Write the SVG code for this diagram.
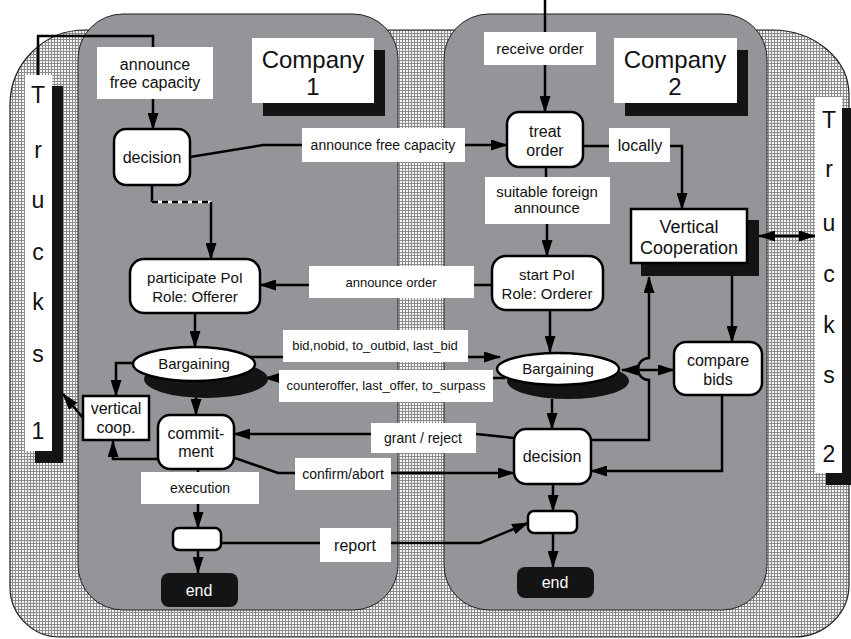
<svg xmlns="http://www.w3.org/2000/svg" width="851" height="639" viewBox="0 0 851 639">
<defs>
<pattern id="hatch" width="3" height="3" patternUnits="userSpaceOnUse">
<rect width="3" height="3" fill="#f4f4f4"/>
<path d="M0,0.5H3M0.5,0V3" stroke="#8c8c8c" stroke-width="1"/>
</pattern>
<marker id="ah" markerUnits="userSpaceOnUse" markerWidth="17" markerHeight="11" viewBox="0 0 17 11" refX="16" refY="5.5" orient="auto-start-reverse">
<path d="M0,0 L17,5.5 L0,11 z" fill="#000"/>
</marker>
<style>
.panel{fill:#939598;stroke:#222;stroke-width:1}
.node{fill:#fff;stroke:#000;stroke-width:2.5}
.shadow{fill:#141414}
.lbl{fill:#fff}
.c{fill:none;stroke:#000;stroke-width:2.5}
.a{marker-end:url(#ah)}
text{font-family:"Liberation Sans",Arial,sans-serif;fill:#111;text-anchor:middle}
.t13{font-size:13px}
.t14{font-size:14px}
.t15{font-size:15px}
.t16{font-size:16px}
.big{font-size:24px}
.trk{font-size:23px}
</style>
</defs>
<rect width="851" height="639" fill="#fff"/>
<path d="M85,30 H772 A77,65 0 0 1 849,95 V585 A55,52 0 0 1 794,637 H60 A50,50 0 0 1 10,587 V105 A75,75 0 0 1 85,30 Z" fill="url(#hatch)" stroke="#222" stroke-width="1.2"/>
<rect class="panel" x="78" y="14" width="320" height="596" rx="45"/>
<rect class="panel" x="444" y="14" width="323" height="596" rx="45"/>

<g id="connectors">
<path class="c" d="M38,75 V36 H153 V47" stroke-width="2"/>
<path class="c a" d="M153,99 V129"/>
<path class="c" d="M190,157 L263,145 H302"/>
<path class="c a" d="M465,145 H507"/>
<path class="c" d="M545,0 V32"/>
<path class="c a" d="M545,65 V112"/>
<path class="c" d="M583,146 H609"/>
<path class="c a" d="M670,146 H682 V209"/>
<path class="c" d="M546,167 V177"/>
<path class="c a" d="M547,224 V256"/>
<path class="c" d="M152,185 V202"/>
<path d="M152,202 H211" stroke="#fff" stroke-width="2.5"/>
<path d="M152,202 H211" stroke="#000" stroke-width="2.5" stroke-dasharray="6 4"/>
<path class="c a" d="M211,202 V259"/>
<path class="c" d="M492,285 H474"/>
<path class="c a" d="M309,285 H260"/>
<path class="c a" d="M550,310 V352"/>
<path class="c a" d="M195,313 V347"/>
<path class="c" d="M245,357 H283" stroke-width="3"/>
<path class="c a" d="M468,357 H500" stroke-width="3"/>
<path class="c" d="M505,378 H493" stroke-width="3"/>
<path class="c a" d="M279,378 H265" stroke-width="3"/>
<path class="c a" d="M133,363 H116 V396"/>
<path class="c a" d="M196,397 V415"/>
<path class="c a" d="M158,459 H113 V441"/>
<path class="c a" d="M83,418 L63,394"/>
<path class="c" d="M514,438 L476,434"/>
<path class="c a" d="M371,434 H234"/>
<path class="c" d="M232,457 L278,473 H295"/>
<path class="c a" d="M391,473 H514"/>
<path class="c a" d="M552,399 V429"/>
<path class="c a" d="M591,440 H649 V380 A11,11 0 0 1 649,358 V277"/>
<path class="c a" d="M622,370 H674" marker-start="url(#ah)"/>
<path class="c a" d="M732,276 V342"/>
<path class="c a" d="M722,395 V471 H591"/>
<path class="c a" d="M759,236 H815" marker-start="url(#ah)"/>
<path class="c a" d="M553,484 V511"/>
<path class="c a" d="M553,533 V567"/>
<path class="c" d="M198,469 V472"/>
<path class="c a" d="M198,504 V528"/>
<path class="c a" d="M198,550 V573"/>
<path class="c" d="M221,543 H320"/>
<path class="c a" d="M391,543 H480 L528,523"/>
</g>

<g id="trucks1">
<rect class="shadow" x="35" y="86" width="28" height="377"/>
<rect fill="#fff" x="25" y="75" width="27" height="376"/>
<text class="trk" x="38" y="103">T</text>
<text class="trk" x="38" y="158">r</text>
<text class="trk" x="38" y="208">u</text>
<text class="trk" x="38" y="260">c</text>
<text class="trk" x="38" y="310">k</text>
<text class="trk" x="38" y="362">s</text>
<text class="trk" x="38" y="439">1</text>
</g>
<g id="trucks2">
<rect class="shadow" x="826" y="108" width="27" height="377"/>
<rect fill="#fff" x="815" y="97" width="27" height="376"/>
<text class="trk" x="829" y="128">T</text>
<text class="trk" x="829" y="177">r</text>
<text class="trk" x="829" y="231">u</text>
<text class="trk" x="829" y="282">c</text>
<text class="trk" x="829" y="333">k</text>
<text class="trk" x="829" y="383">s</text>
<text class="trk" x="829" y="462">2</text>
</g>
<g id="company1-title">
<rect class="shadow" x="263" y="50" width="122" height="66"/>
<rect fill="#fff" x="252" y="38" width="122" height="65"/>
<text class="big" x="313" y="68">Company</text>
<text class="big" x="313" y="95">1</text>
</g>
<g id="company2-title">
<rect class="shadow" x="625" y="50" width="123" height="66"/>
<rect fill="#fff" x="614" y="38" width="123" height="65"/>
<text class="big" x="675" y="68">Company</text>
<text class="big" x="675" y="95">2</text>
</g>

<g id="lbl-announce-free-1">
<rect class="lbl" x="97" y="47" width="116" height="52"/>
<text class="t16" x="155" y="70">announce</text>
<text class="t16" x="155" y="88">free capacity</text>
</g>
<g id="decision1">
<rect class="node" x="114" y="129" width="76" height="56" rx="12"/>
<text class="t16" x="152" y="163">decision</text>
</g>
<g id="lbl-announce-free-2">
<rect class="lbl" x="302" y="128" width="163" height="34"/>
<text class="t14" x="383" y="150">announce free capacity</text>
</g>
<g id="lbl-receive-order">
<rect class="lbl" x="484" y="32" width="112" height="33"/>
<text class="t15" x="540" y="54">receive order</text>
</g>
<g id="treat-order">
<rect class="node" x="507" y="112" width="76" height="55" rx="12"/>
<text class="t16" x="545" y="137">treat</text>
<text class="t16" x="545" y="156">order</text>
</g>
<g id="lbl-locally">
<rect class="lbl" x="609" y="128" width="61" height="34"/>
<text class="t16" x="640" y="151">locally</text>
</g>
<g id="lbl-suitable">
<rect class="lbl" x="485" y="177" width="125" height="47"/>
<text class="t15" x="547" y="197">suitable foreign</text>
<text class="t15" x="547" y="213">announce</text>
</g>
<g id="vertical-cooperation">
<rect class="shadow" x="641" y="220" width="118" height="56"/>
<rect class="node" x="631" y="209" width="116" height="54" stroke-width="2"/>
<text class="t16" x="689" y="233" style="font-size:18px">Vertical</text>
<text class="t16" x="689" y="254" style="font-size:18px">Cooperation</text>
</g>
<g id="participate">
<rect class="node" x="130" y="259" width="130" height="54" rx="14"/>
<text class="t15" x="195" y="283">participate PoI</text>
<text class="t15" x="195" y="302">Role: Offerer</text>
</g>
<g id="lbl-announce-order">
<rect class="lbl" x="309" y="266" width="165" height="32"/>
<text class="t13" x="391" y="287">announce order</text>
</g>
<g id="start">
<rect class="node" x="492" y="256" width="111" height="54" rx="14"/>
<text class="t15" x="547" y="280">start PoI</text>
<text class="t15" x="547" y="299">Role: Orderer</text>
</g>
<g id="bargaining1">
<ellipse class="shadow" cx="206" cy="379" rx="62" ry="19"/>
<ellipse class="node" cx="194" cy="364" rx="61" ry="17" stroke-width="2"/>
<text class="t15" x="194" y="369">Bargaining</text>
</g>
<g id="bargaining2">
<ellipse class="shadow" cx="568" cy="381" rx="61" ry="18"/>
<ellipse class="node" cx="558" cy="369" rx="61" ry="16" stroke-width="2"/>
<text class="t15" x="558" y="374">Bargaining</text>
</g>
<g id="lbl-bid">
<rect class="lbl" x="283" y="330" width="185" height="32"/>
<text class="t13" x="375" y="350">bid,nobid, to_outbid, last_bid</text>
</g>
<g id="lbl-counteroffer">
<rect class="lbl" x="279" y="370" width="214" height="32"/>
<text class="t13" x="386" y="390">counteroffer, last_offer, to_surpass</text>
</g>
<g id="compare-bids">
<rect class="node" x="674" y="342" width="88" height="53" rx="12"/>
<text class="t16" x="718" y="366">compare</text>
<text class="t16" x="718" y="385">bids</text>
</g>
<g id="vertical-coop">
<rect class="node" x="83" y="396" width="66" height="44"/>
<text class="t16" x="116" y="414">vertical</text>
<text class="t16" x="116" y="433">coop.</text>
</g>
<g id="commitment">
<rect class="node" x="158" y="415" width="76" height="54" rx="12"/>
<text class="t16" x="196" y="439">commit-</text>
<text class="t16" x="196" y="457">ment</text>
</g>
<g id="lbl-grant">
<rect class="lbl" x="371" y="423" width="105" height="30"/>
<text class="t14" x="423" y="443">grant / reject</text>
</g>
<g id="lbl-confirm">
<rect class="lbl" x="295" y="458" width="96" height="32"/>
<text class="t14" x="343" y="479">confirm/abort</text>
</g>
<g id="decision2">
<rect class="node" x="514" y="429" width="77" height="55" rx="12"/>
<text class="t16" x="552" y="462">decision</text>
</g>
<g id="lbl-execution">
<rect class="lbl" x="141" y="472" width="118" height="32"/>
<text class="t14" x="200" y="493">execution</text>
</g>
<g id="small1">
<rect class="node" x="173" y="528" width="48" height="22" rx="6"/>
</g>
<g id="small2">
<rect class="node" x="528" y="511" width="49" height="22" rx="6"/>
</g>
<g id="lbl-report">
<rect class="lbl" x="320" y="528" width="71" height="34"/>
<text class="t16" x="355" y="551">report</text>
</g>
<g id="end1">
<rect x="161" y="573" width="77" height="34" rx="8" fill="#141414"/>
<text class="t16" x="199" y="596" style="fill:#fff">end</text>
</g>
<g id="end2">
<rect x="517" y="567" width="77" height="31" rx="8" fill="#141414"/>
<text class="t16" x="555" y="588" style="fill:#fff">end</text>
</g>
</svg>
